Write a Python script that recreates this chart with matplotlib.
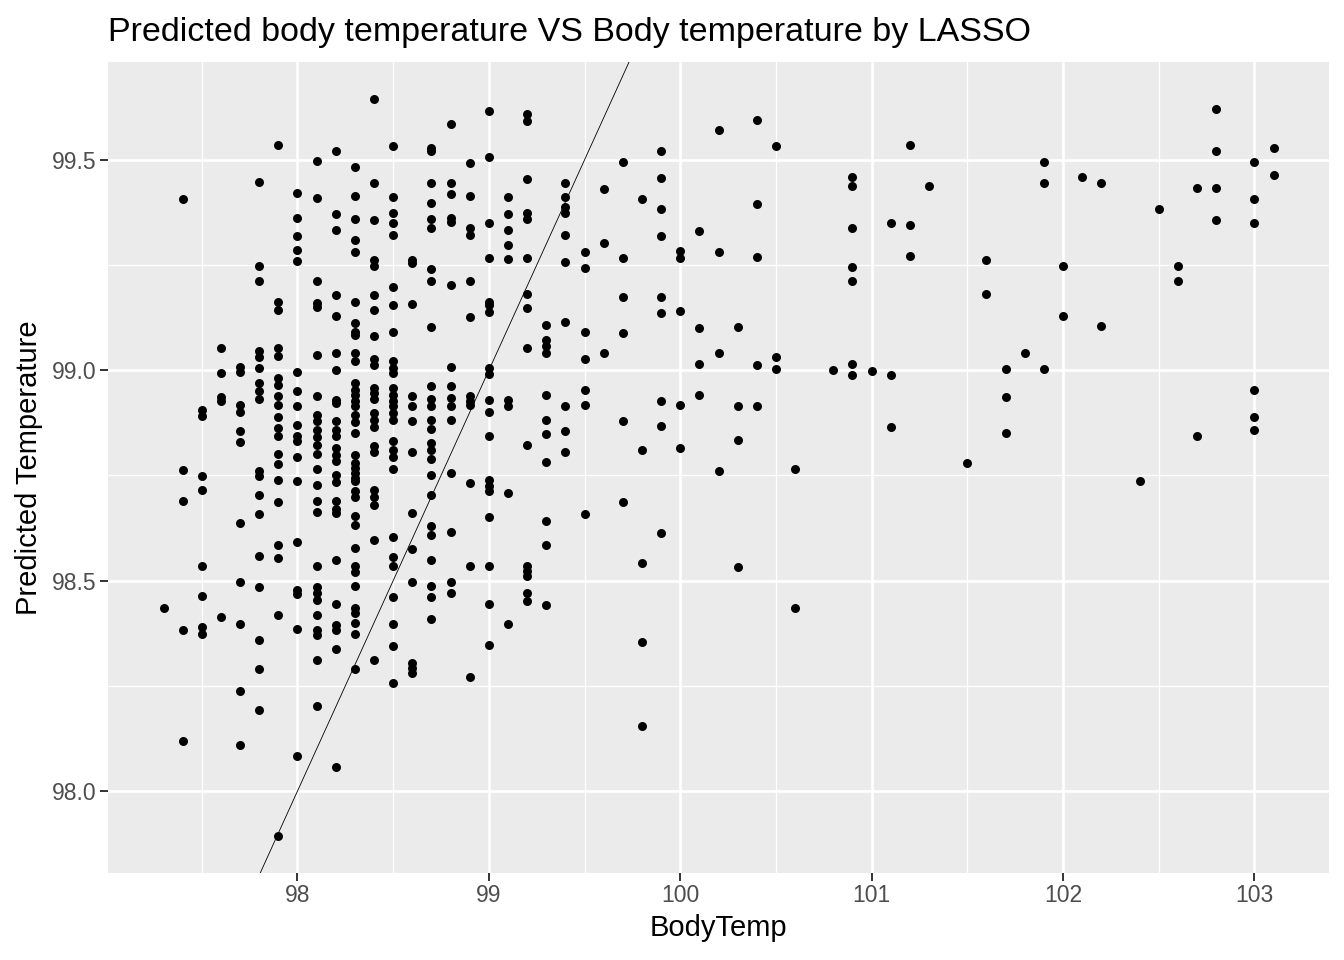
import numpy as np
import matplotlib
matplotlib.use("Agg")
import matplotlib.pyplot as plt

# observed body temperature (x), one entry per column of points
temps = [97.3, 97.4, 97.5, 97.6, 97.7, 97.8, 97.9, 98.0, 98.1, 98.2,
         98.3, 98.4, 98.5, 98.6, 98.7, 98.8, 98.9, 99.0, 99.1, 99.2,
         99.3, 99.4, 99.5, 99.6, 99.7, 99.8, 99.9, 100.0, 100.1, 100.2,
         100.3, 100.4, 100.5, 100.6, 100.8, 100.9, 101.0, 101.1, 101.2,
         101.3, 101.5, 101.6, 101.7, 101.8, 101.9, 102.0, 102.1, 102.2,
         102.4, 102.5, 102.6, 102.7, 102.8, 103.0, 103.1]

# LASSO predicted temperature for every point in each column
pred_groups = [
    [98.435],
    [99.407, 98.762, 98.689, 98.383, 98.118],
    [98.906, 98.892, 98.749, 98.716, 98.534, 98.463, 98.391, 98.373],
    [99.054, 98.993, 98.936, 98.926, 98.413],
    [99.009, 98.995, 98.918, 98.902, 98.855, 98.829, 98.638, 98.497,
     98.397, 98.237, 98.110],
    [99.448, 99.247, 99.211, 99.045, 99.031, 99.005, 98.970, 98.950,
     98.932, 98.760, 98.748, 98.703, 98.659, 98.559, 98.484, 98.360,
     98.291, 98.192],
    [99.536, 99.163, 99.144, 99.053, 99.033, 98.982, 98.966, 98.938,
     98.918, 98.888, 98.863, 98.844, 98.802, 98.777, 98.740, 98.686,
     98.584, 98.555, 98.419, 97.893],
    [99.422, 99.361, 99.318, 99.285, 99.260, 98.995, 98.951, 98.916,
     98.871, 98.843, 98.833, 98.795, 98.738, 98.593, 98.479, 98.468,
     98.386, 98.083],
    [99.498, 99.410, 99.213, 99.159, 99.150, 99.037, 98.939, 98.893,
     98.880, 98.859, 98.842, 98.823, 98.802, 98.766, 98.728, 98.689,
     98.663, 98.534, 98.485, 98.471, 98.455, 98.419, 98.384, 98.372,
     98.312, 98.203],
    [99.522, 99.372, 99.334, 99.179, 99.128, 99.041, 99.001, 98.930,
     98.922, 98.879, 98.859, 98.843, 98.815, 98.799, 98.785, 98.750,
     98.734, 98.689, 98.670, 98.661, 98.550, 98.445, 98.395, 98.382,
     98.338, 98.057],
    [99.482, 99.413, 99.360, 99.309, 99.282, 99.163, 99.112, 99.092,
     99.083, 99.042, 99.021, 98.969, 98.954, 98.942, 98.926, 98.915,
     98.894, 98.878, 98.852, 98.799, 98.780, 98.768, 98.756, 98.744,
     98.736, 98.712, 98.700, 98.653, 98.633, 98.578, 98.534, 98.521,
     98.488, 98.435, 98.423, 98.399, 98.373, 98.290],
    [99.645, 99.446, 99.357, 99.262, 99.247, 99.179, 99.144, 99.081,
     99.027, 99.013, 98.958, 98.946, 98.932, 98.898, 98.882, 98.865,
     98.819, 98.805, 98.716, 98.698, 98.681, 98.597, 98.312],
    [99.534, 99.411, 99.373, 99.350, 99.322, 99.197, 99.154, 99.092,
     99.021, 99.005, 98.993, 98.958, 98.942, 98.926, 98.914, 98.898,
     98.882, 98.831, 98.811, 98.795, 98.766, 98.605, 98.556, 98.534,
     98.461, 98.397, 98.346, 98.257],
    [99.262, 99.255, 99.157, 98.940, 98.914, 98.879, 98.805, 98.661,
     98.576, 98.496, 98.305, 98.293, 98.281],
    [99.528, 99.520, 99.446, 99.397, 99.359, 99.339, 99.241, 99.213,
     99.102, 98.962, 98.932, 98.916, 98.882, 98.860, 98.827, 98.811,
     98.789, 98.752, 98.704, 98.629, 98.609, 98.550, 98.488, 98.461,
     98.410],
    [99.586, 99.444, 99.418, 99.363, 99.353, 99.203, 99.007, 98.962,
     98.934, 98.916, 98.882, 98.757, 98.615, 98.498, 98.471],
    [99.493, 99.415, 99.339, 99.322, 99.211, 99.126, 98.938, 98.928,
     98.918, 98.733, 98.536, 98.271],
    [99.615, 99.506, 99.351, 99.268, 99.163, 99.154, 99.138, 99.005,
     98.991, 98.930, 98.902, 98.843, 98.740, 98.724, 98.712, 98.651,
     98.534, 98.445, 98.347],
    [99.411, 99.371, 99.334, 99.298, 99.264, 98.930, 98.916, 98.708,
     98.398],
    [99.608, 99.593, 99.455, 99.373, 99.360, 99.268, 99.182, 99.149,
     99.053, 98.823, 98.534, 98.522, 98.510, 98.471, 98.451],
    [99.108, 99.072, 99.058, 99.042, 98.942, 98.881, 98.849, 98.781,
     98.641, 98.584, 98.443],
    [99.445, 99.411, 99.389, 99.373, 99.321, 99.258, 99.114, 98.916,
     98.855, 98.805],
    [99.282, 99.243, 99.092, 99.027, 98.954, 98.918, 98.659],
    [99.431, 99.302, 99.042],
    [99.496, 99.268, 99.175, 99.088, 98.879, 98.686],
    [99.408, 98.810, 98.542, 98.354, 98.154],
    [99.522, 99.458, 99.383, 99.319, 99.175, 99.137, 98.926, 98.867,
     98.613],
    [99.284, 99.267, 99.142, 98.917, 98.815],
    [99.332, 99.100, 99.014, 98.941],
    [99.570, 99.280, 99.040, 98.760],
    [99.103, 98.914, 98.834, 98.533],
    [99.594, 99.396, 99.270, 99.012, 98.914],
    [99.532, 99.032, 99.003],
    [98.765, 98.435],
    [99.000],
    [99.460, 99.437, 99.339, 99.245, 99.211, 99.016, 98.988],
    [98.998],
    [99.349, 98.988, 98.865],
    [99.535, 99.345, 99.271],
    [99.439],
    [98.780],
    [99.263, 99.182],
    [99.004, 98.937, 98.852],
    [99.040],
    [99.496, 99.446, 99.004],
    [99.247, 99.130],
    [99.460],
    [99.444, 99.106],
    [98.738],
    [99.384],
    [99.249, 99.213],
    [99.434, 98.843],
    [99.622, 99.520, 99.432, 99.357],
    [99.496, 99.408, 99.349, 98.952, 98.888, 98.857],
    [99.529, 99.463],
]

x_ticks = [98, 99, 100, 101, 102, 103]
y_ticks = [98.0, 98.5, 99.0, 99.5]

body_temp = np.concatenate([[t] * len(g) for t, g in zip(temps, pred_groups)])
predicted = np.concatenate(pred_groups)

PANEL = "#EBEBEB"
TICK_TEXT = "#4D4D4D"
TICK_MARK = "#333333"

plt.rcParams["font.family"] = ["Liberation Sans", "DejaVu Sans"]

fig = plt.figure(figsize=(13.44, 9.6), dpi=100)
fig.patch.set_facecolor("white")
ax = fig.add_axes([108 / 1344, 87 / 960, 1221 / 1344, 811 / 960])
ax.set_facecolor(PANEL)

ax.set_xticks(x_ticks)
ax.set_yticks(y_ticks)
ax.set_xticklabels([str(t) for t in x_ticks])
ax.set_yticklabels([f"{t:.1f}" for t in y_ticks])
ax.set_xticks(np.arange(97.5, 103.0, 1.0), minor=True)
ax.set_yticks(np.arange(98.25, 99.8, 0.5), minor=True)

ax.scatter(body_temp, predicted, s=42, color="black", linewidths=0,
           zorder=3)
ax.axline((98, 98), slope=1, color="black", lw=0.6, zorder=4)

# ggplot-style default expansion (5% each side), set after the ticks
xr = body_temp.max() - body_temp.min()
yr = predicted.max() - predicted.min()
ax.set_xlim(body_temp.min() - 0.05 * xr, body_temp.max() + 0.05 * xr)
ax.set_ylim(predicted.min() - 0.05 * yr, predicted.max() + 0.05 * yr)

ax.grid(which="major", color="white", lw=1.9)
ax.grid(which="minor", color="white", lw=0.9)
ax.set_axisbelow(True)
for s in ax.spines.values():
    s.set_visible(False)
ax.tick_params(which="major", color=TICK_MARK, labelcolor=TICK_TEXT,
               labelsize=16.5, length=5.5, width=1.4, pad=2.5)
ax.tick_params(which="minor", length=0)

ax.set_xlabel("BodyTemp", fontsize=21, color="black", labelpad=5)
ax.set_ylabel("Predicted Temperature", fontsize=21, color="black",
              labelpad=7)
ax.set_title("Predicted body temperature VS Body temperature by LASSO",
             loc="left", fontsize=24.5, color="black", pad=15)

fig.savefig("out.png", dpi=100, facecolor="white")
